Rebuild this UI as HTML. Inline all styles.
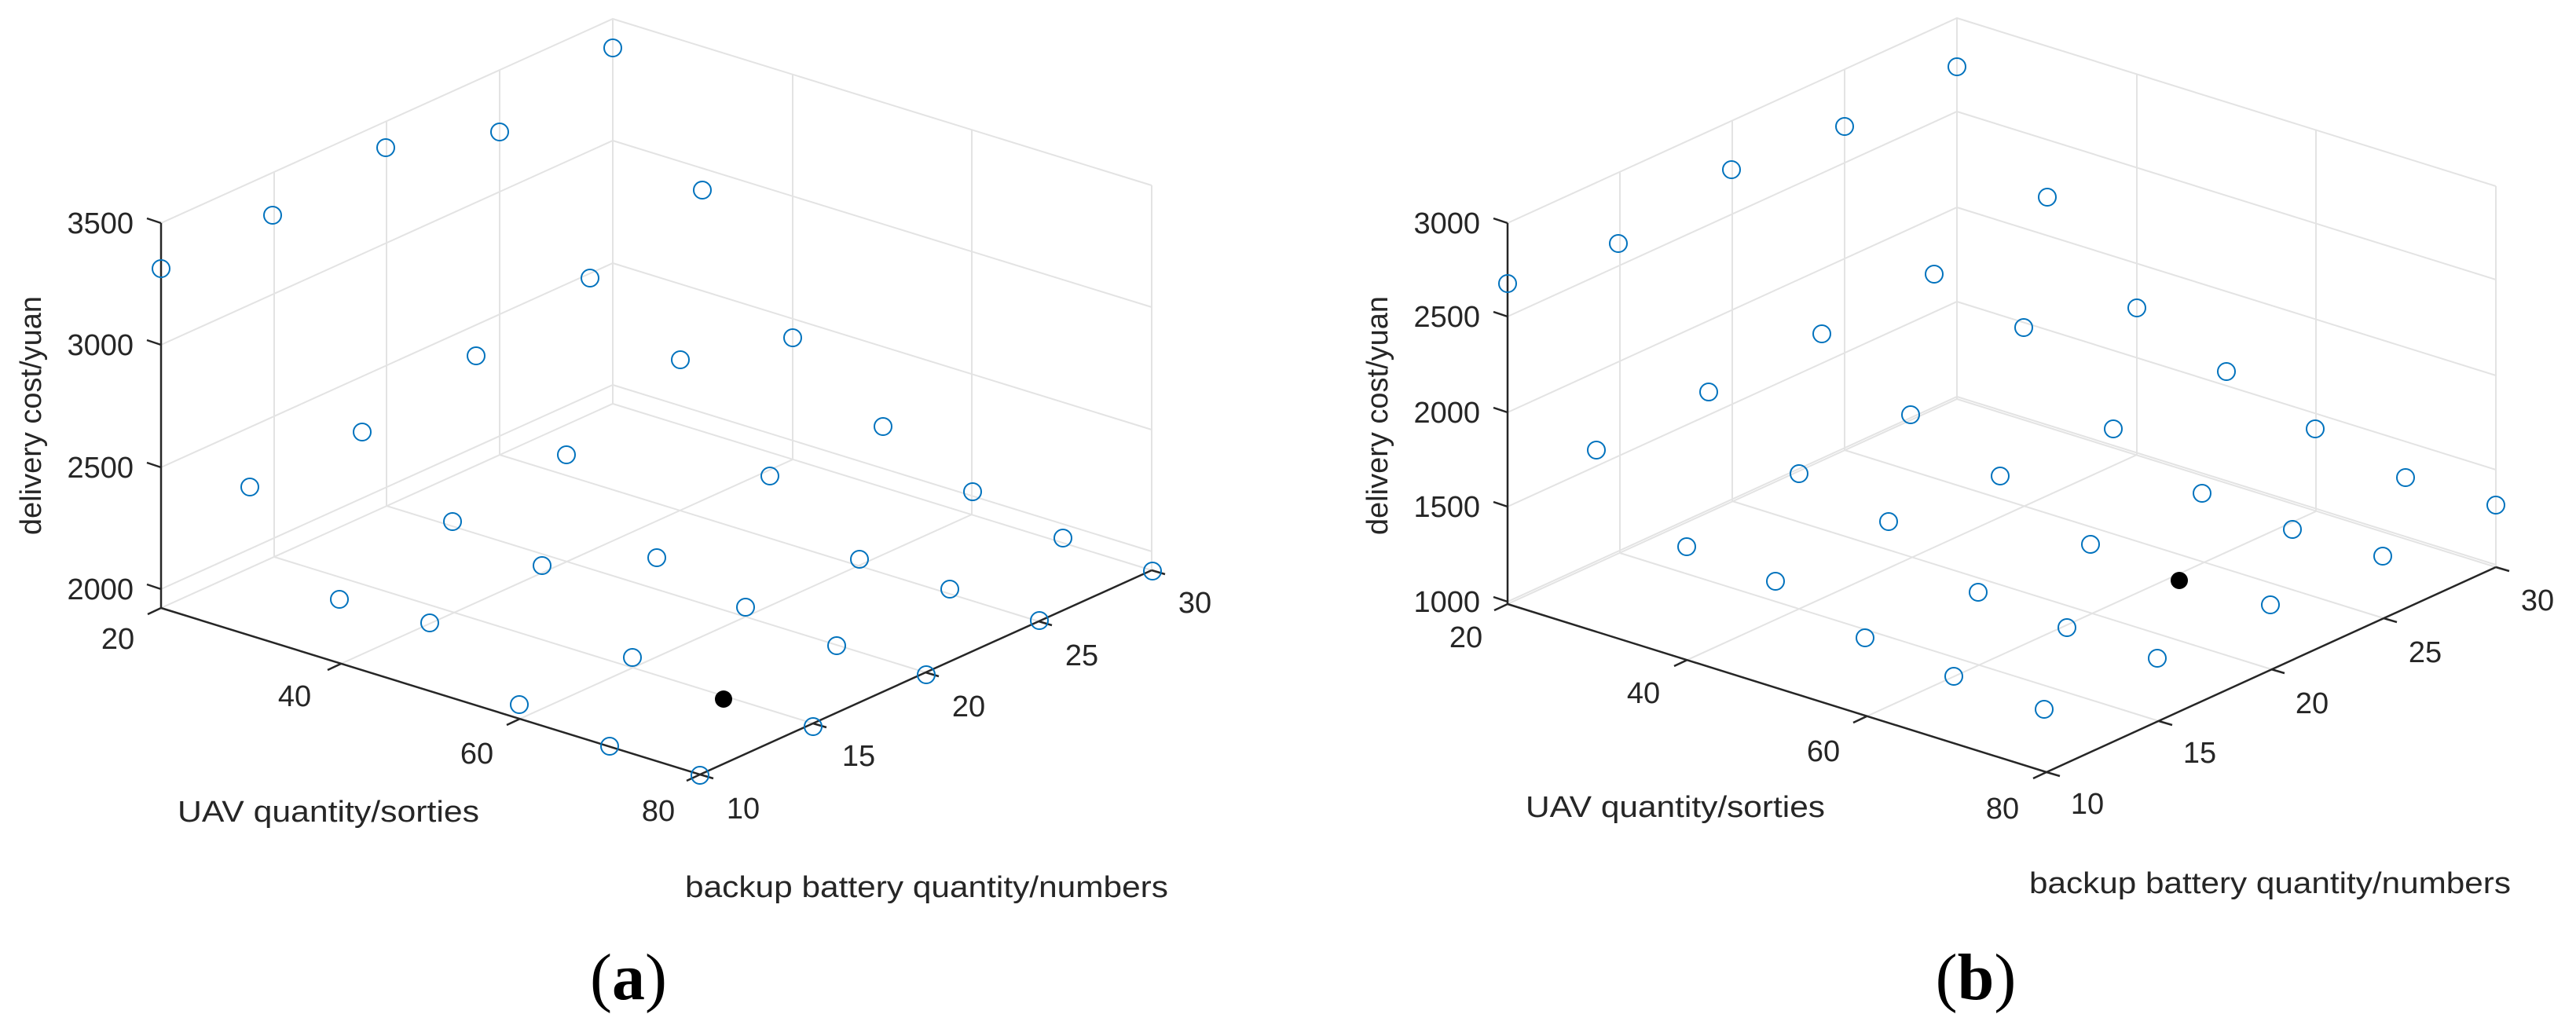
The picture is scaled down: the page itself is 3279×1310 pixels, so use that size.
<!DOCTYPE html>
<html><head><meta charset="utf-8"><style>
html,body{margin:0;padding:0;background:#fff;}
svg{display:block;}
text{font-family:"Liberation Sans",Arial,sans-serif;fill:#262626;}
.t{font-size:38px;}
.g{stroke:#e3e3e3;stroke-width:2;fill:none;}
.a{stroke:#262626;stroke-width:2.5;fill:none;}
.d circle{r:11px;}
.d{fill:none;stroke:#0072BD;stroke-width:2;}
.cap{font-family:"Liberation Serif",serif;font-size:84px;fill:#000;}
</style></head><body>
<svg width="3279" height="1310" viewBox="0 0 3279 1310" xmlns="http://www.w3.org/2000/svg">
<!-- ===== (a) ===== -->
<g class="g">
<polyline points="205,750 780,490 1466,702"/>
<polyline points="205,595 780,335 1466,547"/>
<polyline points="205,439 780,179 1466,391"/>
<polyline points="205,284 780,24 1466,236"/>
<line x1="780" y1="514" x2="780" y2="24"/>
<line x1="349" y1="709" x2="349" y2="219"/>
<line x1="492" y1="644" x2="492" y2="154"/>
<line x1="636" y1="579" x2="636" y2="89"/>
<line x1="1009" y1="585" x2="1009" y2="95"/>
<line x1="1237" y1="655" x2="1237" y2="165"/>
<line x1="1466" y1="726" x2="1466" y2="236"/>
<polyline points="205,774 780,514 1466,726"/>
<line x1="349" y1="709" x2="1035" y2="921"/>
<line x1="492" y1="644" x2="1178" y2="856"/>
<line x1="636" y1="579" x2="1322" y2="791"/>
<line x1="434" y1="845" x2="1009" y2="585"/>
<line x1="662" y1="915" x2="1237" y2="655"/>
</g>
<g class="a">
<line x1="205" y1="284" x2="205" y2="774"/>
<polyline points="205,774 891,986 1466,726"/>
<line x1="205" y1="284" x2="187" y2="278"/>
<line x1="205" y1="439" x2="187" y2="433"/>
<line x1="205" y1="595" x2="187" y2="589"/>
<line x1="205" y1="750" x2="187" y2="744"/>
<line x1="205" y1="774" x2="188" y2="782"/>
<line x1="434" y1="845" x2="417" y2="853"/>
<line x1="662" y1="915" x2="645" y2="923"/>
<line x1="891" y1="986" x2="874" y2="994"/>
<line x1="891" y1="986" x2="908" y2="991"/>
<line x1="1035" y1="921" x2="1052" y2="926"/>
<line x1="1178" y1="856" x2="1195" y2="861"/>
<line x1="1322" y1="791" x2="1339" y2="796"/>
<line x1="1466" y1="726" x2="1483" y2="731"/>
</g>
<g class="d">
<circle cx="780" cy="61" r="11"/><circle cx="636" cy="168" r="11"/><circle cx="491" cy="188" r="11"/><circle cx="347" cy="274" r="11"/><circle cx="205" cy="342" r="11"/>
<circle cx="894" cy="242" r="11"/><circle cx="751" cy="354" r="11"/><circle cx="606" cy="453" r="11"/><circle cx="461" cy="550" r="11"/><circle cx="318" cy="620" r="11"/>
<circle cx="1009" cy="430" r="11"/><circle cx="866" cy="458" r="11"/><circle cx="721" cy="579" r="11"/><circle cx="576" cy="664" r="11"/><circle cx="432" cy="763" r="11"/>
<circle cx="1124" cy="543" r="11"/><circle cx="980" cy="606" r="11"/><circle cx="836" cy="710" r="11"/><circle cx="690" cy="720" r="11"/><circle cx="547" cy="793" r="11"/>
<circle cx="1238" cy="626" r="11"/><circle cx="1094" cy="712" r="11"/><circle cx="949" cy="773" r="11"/><circle cx="805" cy="837" r="11"/><circle cx="661" cy="897" r="11"/>
<circle cx="1353" cy="685" r="11"/><circle cx="1209" cy="750" r="11"/><circle cx="1065" cy="822" r="11"/><circle cx="776" cy="950" r="11"/>
<circle cx="1467" cy="727" r="11"/><circle cx="1323" cy="790" r="11"/><circle cx="1179" cy="859" r="11"/><circle cx="1035" cy="925" r="11"/><circle cx="891" cy="987" r="11"/>
</g>
<circle cx="921" cy="890" r="11" fill="#000"/>
<g class="t" text-anchor="end">
<text x="170" y="297">3500</text><text x="170" y="452">3000</text><text x="170" y="608">2500</text><text x="170" y="763">2000</text>
</g>
<g class="t" text-anchor="middle">
<text x="150" y="826">20</text><text x="375" y="899">40</text><text x="607" y="972">60</text><text x="838" y="1045">80</text>
<text x="946" y="1042">10</text><text x="1093" y="975">15</text><text x="1233" y="912">20</text><text x="1377" y="847">25</text><text x="1521" y="780">30</text>
</g>
<text class="t" transform="translate(52,529) rotate(-90)" text-anchor="middle">delivery cost/yuan</text>
<text class="t" x="226" y="1046" textLength="384" lengthAdjust="spacingAndGlyphs">UAV quantity/sorties</text>
<text class="t" x="872" y="1142" textLength="615" lengthAdjust="spacingAndGlyphs">backup battery quantity/numbers</text>
<text class="cap" x="800" y="1272" text-anchor="middle">(<tspan font-weight="bold">a</tspan>)</text>

<!-- ===== (b) ===== -->
<g class="g">
<polyline points="1919,766 2491,505 3177,719"/>
<polyline points="1919,645 2491,384 3177,598"/>
<polyline points="1919,525 2491,264 3177,478"/>
<polyline points="1919,403 2491,142 3177,356"/>
<polyline points="1919,284 2491,23 3177,237"/>
<line x1="2491" y1="508" x2="2491" y2="23"/>
<line x1="2062" y1="704" x2="2062" y2="219"/>
<line x1="2205" y1="638" x2="2205" y2="154"/>
<line x1="2348" y1="573" x2="2348" y2="88"/>
<line x1="2720" y1="579" x2="2720" y2="94"/>
<line x1="2948" y1="651" x2="2948" y2="166"/>
<line x1="3177" y1="722" x2="3177" y2="237"/>
<polyline points="1919,769 2491,508 3177,722"/>
<line x1="2062" y1="704" x2="2748" y2="918"/>
<line x1="2205" y1="638" x2="2891" y2="852"/>
<line x1="2348" y1="573" x2="3034" y2="787"/>
<line x1="2148" y1="840" x2="2720" y2="579"/>
<line x1="2376" y1="912" x2="2948" y2="651"/>
</g>
<g class="a">
<line x1="1919" y1="284" x2="1919" y2="769"/>
<polyline points="1919,769 2605,983 3177,722"/>
<line x1="1919" y1="284" x2="1901" y2="278"/>
<line x1="1919" y1="403" x2="1901" y2="397"/>
<line x1="1919" y1="525" x2="1901" y2="519"/>
<line x1="1919" y1="645" x2="1901" y2="639"/>
<line x1="1919" y1="766" x2="1901" y2="760"/>
<line x1="1919" y1="769" x2="1902" y2="777"/>
<line x1="2148" y1="840" x2="2131" y2="848"/>
<line x1="2376" y1="912" x2="2359" y2="920"/>
<line x1="2605" y1="983" x2="2588" y2="991"/>
<line x1="2605" y1="983" x2="2622" y2="988"/>
<line x1="2748" y1="918" x2="2765" y2="923"/>
<line x1="2891" y1="852" x2="2908" y2="857"/>
<line x1="3034" y1="787" x2="3051" y2="792"/>
<line x1="3177" y1="722" x2="3194" y2="727"/>
</g>
<g class="d">
<circle cx="2491" cy="85" r="11"/><circle cx="2348" cy="161" r="11"/><circle cx="2204" cy="216" r="11"/><circle cx="2060" cy="310" r="11"/><circle cx="1919" cy="361" r="11"/>
<circle cx="2606" cy="251" r="11"/><circle cx="2462" cy="349" r="11"/><circle cx="2319" cy="425" r="11"/><circle cx="2175" cy="499" r="11"/><circle cx="2032" cy="573" r="11"/>
<circle cx="2720" cy="392" r="11"/><circle cx="2576" cy="417" r="11"/><circle cx="2432" cy="528" r="11"/><circle cx="2290" cy="603" r="11"/><circle cx="2147" cy="696" r="11"/>
<circle cx="2834" cy="473" r="11"/><circle cx="2690" cy="546" r="11"/><circle cx="2546" cy="606" r="11"/><circle cx="2404" cy="664" r="11"/><circle cx="2260" cy="740" r="11"/>
<circle cx="2947" cy="546" r="11"/><circle cx="2803" cy="628" r="11"/><circle cx="2661" cy="693" r="11"/><circle cx="2518" cy="754" r="11"/><circle cx="2374" cy="812" r="11"/>
<circle cx="3062" cy="608" r="11"/><circle cx="2918" cy="674" r="11"/><circle cx="2631" cy="799" r="11"/><circle cx="2487" cy="861" r="11"/>
<circle cx="3177" cy="643" r="11"/><circle cx="3033" cy="708" r="11"/><circle cx="2890" cy="770" r="11"/><circle cx="2746" cy="838" r="11"/><circle cx="2602" cy="903" r="11"/>
</g>
<circle cx="2774" cy="739" r="11" fill="#000"/>
<g class="t" text-anchor="end">
<text x="1884" y="297">3000</text><text x="1884" y="416">2500</text><text x="1884" y="538">2000</text><text x="1884" y="658">1500</text><text x="1884" y="779">1000</text>
</g>
<g class="t" text-anchor="middle">
<text x="1866" y="824">20</text><text x="2092" y="895">40</text><text x="2321" y="969">60</text><text x="2549" y="1042">80</text>
<text x="2657" y="1036">10</text><text x="2800" y="971">15</text><text x="2943" y="908">20</text><text x="3087" y="843">25</text><text x="3230" y="777">30</text>
</g>
<text class="t" transform="translate(1766,529) rotate(-90)" text-anchor="middle">delivery cost/yuan</text>
<text class="t" x="1942" y="1040" textLength="381" lengthAdjust="spacingAndGlyphs">UAV quantity/sorties</text>
<text class="t" x="2583" y="1137" textLength="613" lengthAdjust="spacingAndGlyphs">backup battery quantity/numbers</text>
<text class="cap" x="2515" y="1272" text-anchor="middle">(<tspan font-weight="bold">b</tspan>)</text>
</svg>
</body></html>
